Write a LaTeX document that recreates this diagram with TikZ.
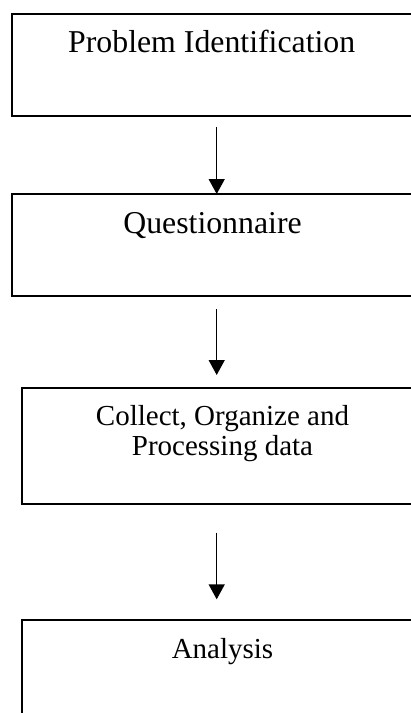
\documentclass[tikz,border=0pt]{standalone}
\usepackage{fontspec}
\setmainfont{Liberation Serif}
\usetikzlibrary{arrows.meta,calc}
\begin{document}
\begin{tikzpicture}[x=1pt,y=-1pt,
  box/.style={draw=black,line width=1.7pt,rectangle,inner sep=0pt,outer sep=0pt,anchor=north west},
  bigtxt/.style={font=\fontsize{31.8}{34}\selectfont,inner sep=0pt,anchor=base},
  smtxt/.style={font=\fontsize{29}{30}\selectfont,inner sep=0pt,anchor=base,align=center},
  arr/.style={line width=1.5pt,-{Triangle[length=15pt,width=16pt]}}]
\useasboundingbox (0,0) rectangle (411,713);
\clip (0,0) rectangle (411,713);
\node[box,minimum width=399.7pt,minimum height=101.7pt] (b1) at (12.3,14) {};
\node[box,minimum width=399.7pt,minimum height=101.7pt] (b2) at (12.3,194) {};
\node[box,minimum width=400.4pt,minimum height=115.7pt] (b3) at (22.3,388.3) {};
\node[box,minimum width=400.4pt,minimum height=130pt] (b4) at (22.3,620) {};
\node[bigtxt] (t1) at (211.7,52.3) {Problem Identification};
\node[bigtxt] (t2) at (212.5,233.5) {Questionnaire};
\node[smtxt] (t3) at (222.5,455) {Collect, Organize and\\Processing data};
\node[smtxt] (t4) at (222.5,658) {Analysis};
\coordinate (ax) at (216.7,0);
\draw[arr,shorten <=11pt] (b1.south -| ax) -- (b2.north -| ax);
\draw[arr,shorten <=13.6pt,shorten >=13.3pt] (b2.south -| ax) -- (b3.north -| ax);
\draw[arr,shorten <=28.7pt,shorten >=20.7pt] (b3.south -| ax) -- (b4.north -| ax);
\end{tikzpicture}
\end{document}
